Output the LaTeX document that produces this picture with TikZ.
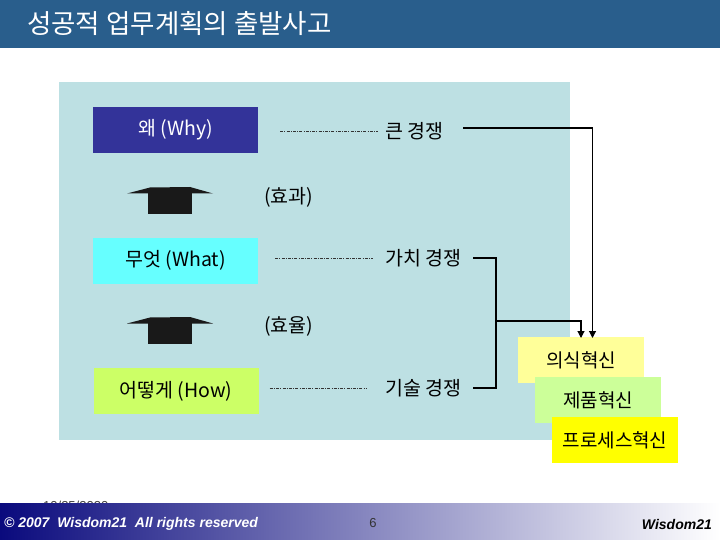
\documentclass[tikz,border=0pt]{standalone}
\usepackage{fontspec}
\setmainfont{Noto Sans CJK KR}
\newfontfamily\lib{Liberation Sans}
\usetikzlibrary{arrows.meta}
\definecolor{titlebar}{RGB}{41,94,140}
\definecolor{panel}{RGB}{189,224,227}
\definecolor{whyc}{RGB}{51,51,153}
\definecolor{whatc}{RGB}{102,255,255}
\definecolor{howc}{RGB}{204,255,102}
\definecolor{y1}{RGB}{255,255,153}
\definecolor{y2}{RGB}{204,255,153}
\definecolor{y3}{RGB}{255,255,0}
\definecolor{navy}{RGB}{10,10,125}
\definecolor{upcol}{RGB}{25,25,25}
\tikzset{
  qbox/.style={minimum width=165pt, minimum height=46pt, inner sep=0pt, font=\fontsize{19.5}{22}\selectfont},
  ibox/.style={minimum width=126pt, minimum height=46pt, inner sep=0pt, font=\fontsize{19}{22}\selectfont},
  lab/.style={anchor=west, inner sep=0pt, font=\fontsize{19.5}{22}\selectfont},
  dotl/.style={line width=0.8pt, draw=black!80, dash pattern=on 3pt off 1.2pt on 1pt off 1.2pt},
  conn/.style={line width=1.1pt, draw=black},
  tip/.style={-{Triangle[width=7pt,length=7pt]}},
  upshape/.style={fill=upcol, draw=none}
}
\begin{document}
\begin{tikzpicture}[x=1pt,y=-1pt]
\useasboundingbox (0,0) rectangle (720,540);
\fill[white] (0,0) rectangle (720,540);
% title bar
\fill[titlebar] (0,0) rectangle (720,48);
\node[anchor=west, inner sep=0pt, text=white, font=\fontsize{26.5}{30}\selectfont] (title) at (27,24) {성공적 업무계획의 출발사고};
% panel
\fill[panel] (59,82) rectangle (570,440);
% question boxes
\node[qbox, fill=whyc, text=white] (why) at (175.5,130) {왜 (Why)};
\node[qbox, fill=whatc] (what) at (175.5,260.5) {무엇 (What)};
\node[qbox, fill=howc] (how) at (176,391) {어떻게 (How)};
% up shapes
\foreach \dy in {0,130}{
  \fill[upshape] (127,193.5+\dy) -- (150,187.5+\dy) -- (190,187+\dy) -- (213,193.5+\dy) -- cycle;
  \fill[upshape] (148,190+\dy) rectangle (192,214+\dy);
}
\node[lab] (eff) at (264,197) {(효과)};
\node[lab] (effi) at (264,326) {(효율)};
% competition labels
\node[lab] (big) at (385,131) {큰 경쟁};
\node[lab] (val) at (385,258) {가치 경쟁};
\node[lab] (tech) at (385,388) {기술 경쟁};
% dotted lines
\draw[dotl] ([xshift=22pt]why.east |- big.west) -- ([xshift=-7pt]big.west);
\draw[dotl] ([xshift=17pt]what.east |- val.west) -- ([xshift=-12pt]val.west);
\draw[dotl] ([xshift=11pt]how.east |- tech.west) -- ([xshift=-18pt]tech.west);
% innovation boxes
\node[ibox, fill=y1] (cons) at (581,360) {의식혁신};
\node[ibox, fill=y2] (prod) at (598,400) {제품혁신};
\node[ibox, fill=y3] (proc) at (615,440) {프로세스혁신};
% connectors
\coordinate (c1) at (463,128);
\coordinate (c2) at (473,258);
\coordinate (c3) at (473,388);
\coordinate (j) at (496,321);
\coordinate (a1) at (592.5,338);
\coordinate (a2) at (581,338);
\draw[conn, tip] (c1) -| (a1);
\draw[conn] (c2) -- (496,258) -- (496,388) -- (c3);
\draw[conn, tip] (j) -| (a2);
% footer
\node[anchor=west, inner sep=0pt, text=black!75, font=\lib\fontsize{13}{15}\selectfont] (date) at (43,506) {10/25/2020};
\shade[left color=navy, right color=white] (0,503) rectangle (720,540);
\node[anchor=west, inner sep=0pt, text=white, font=\lib\bfseries\itshape\fontsize{14}{16}\selectfont] (copy) at (4,524) {© 2007\ \ Wisdom21\ \ All rights reserved};
\node[inner sep=0pt, text=black!80, font=\lib\fontsize{13}{15}\selectfont] (pg) at (373,523) {6};
\node[anchor=east, inner sep=0pt, text=black, font=\lib\bfseries\itshape\fontsize{14}{16}\selectfont] (brand) at (712,524) {Wisdom21};
\end{tikzpicture}
\end{document}
